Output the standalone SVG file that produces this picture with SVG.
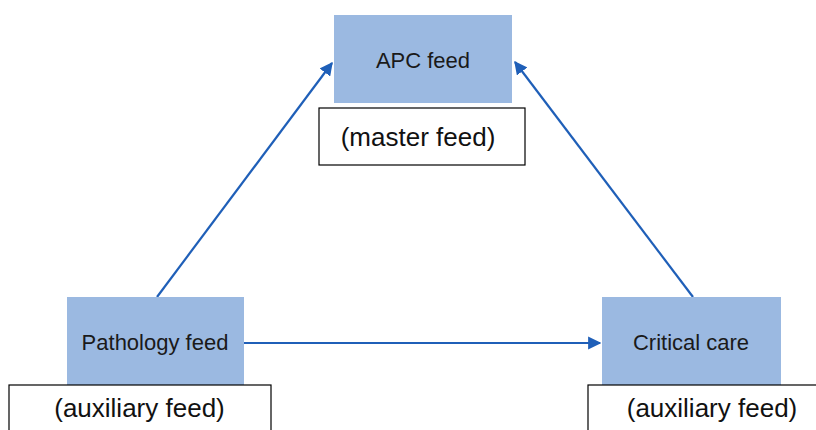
<svg xmlns="http://www.w3.org/2000/svg" width="816" height="430" viewBox="0 0 816 430">
<style>
.node{fill:#9bb9e1;}
.lbl{fill:#fff;stroke:#000;stroke-width:1.2;}
.t{font-family:"Liberation Sans",Arial,sans-serif;fill:#1a1a1a;text-anchor:middle;}
.s{font-size:22px;}
.b{font-size:26px;fill:#111;}
.c{stroke:#1f5fb8;stroke-width:2.2;fill:none;marker-end:url(#ah);}
</style>
<defs>
<marker id="ah" viewBox="0 0 10 10" refX="9" refY="5" markerWidth="6" markerHeight="6" orient="auto" markerUnits="strokeWidth">
<path d="M0,0 L10,5 L0,10 z" fill="#1f5fb8"/>
</marker>
</defs>
<rect width="816" height="430" fill="#fff"/>
<g id="connectors">
<line class="c" x1="157" y1="297" x2="332" y2="63"/>
<line class="c" x1="693" y1="297" x2="515" y2="62"/>
<line class="c" x1="244" y1="343" x2="600" y2="343"/>
</g>
<g id="apc">
<rect class="node" x="334" y="15" width="178" height="88"/>
<text class="t s" x="423" y="68">APC feed</text>
</g>
<g id="master">
<rect class="lbl" x="319" y="108" width="206" height="57"/>
<text class="t b" x="418" y="146">(master feed)</text>
</g>
<g id="pathology">
<rect class="node" x="67" y="297" width="177" height="89"/>
<text class="t s" x="155" y="350">Pathology feed</text>
</g>
<g id="critical">
<rect class="node" x="602" y="297" width="179" height="89"/>
<text class="t s" x="691" y="350">Critical care</text>
</g>
<g id="aux-left">
<rect class="lbl" x="9" y="385" width="262" height="60"/>
<text class="t b" x="139.5" y="417">(auxiliary feed)</text>
</g>
<g id="aux-right">
<rect class="lbl" x="588" y="385" width="240" height="60"/>
<text class="t b" x="712" y="417">(auxiliary feed)</text>
</g>
</svg>
